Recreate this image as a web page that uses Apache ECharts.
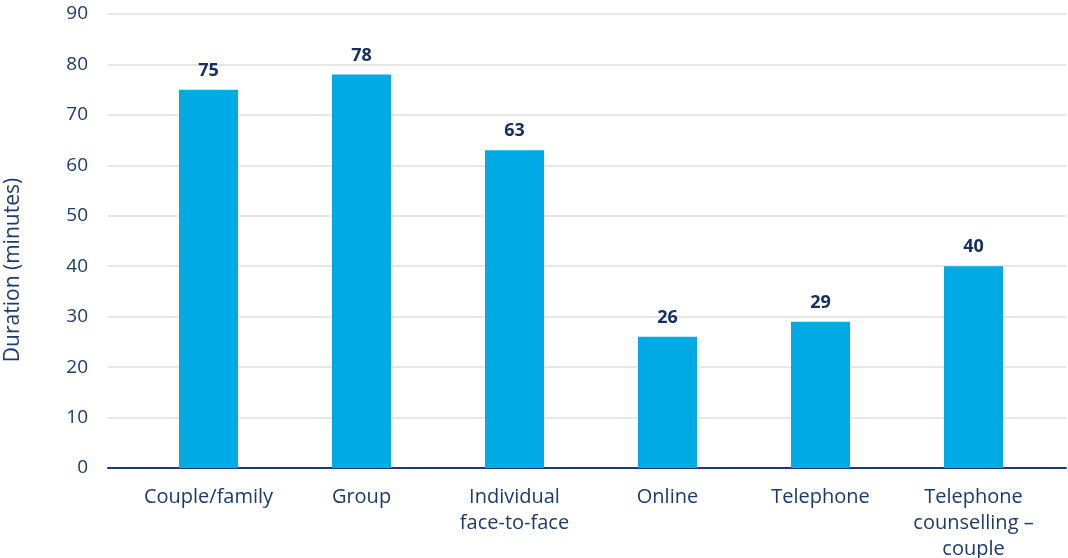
<!DOCTYPE html>
<html>
<head>
<meta charset="utf-8">
<script src="https://cdn.jsdelivr.net/npm/echarts@6/dist/echarts.min.js"></script>
<style>
  html, body { margin: 0; padding: 0; background: #ffffff; }
  #chart { width: 1068px; height: 558px; }
</style>
</head>
<body>
<div id="chart"></div>
<script>
// Average session duration by service type
const categories = [
  'Couple/family',
  'Group',
  'Individual\nface-to-face',
  'Online',
  'Telephone',
  'Telephone\ncounselling –\ncouple'
];
const durations = [75, 78, 63, 26, 29, 40];
const yTicks = [0, 10, 20, 30, 40, 50, 60, 70, 80, 90];

const NAVY = '#1c3a6e';
const BAR = '#00aae5';
const FONT = '"Open Sans", "DejaVu Sans", sans-serif';

const chart = echarts.init(document.getElementById('chart'), null, { renderer: 'canvas' });

chart.setOption({
  animation: false,
  backgroundColor: '#ffffff',
  textStyle: { fontFamily: FONT },
  grid: [
    // frame: gridlines, value ticks and baseline
    { left: 108, right: 2, top: 14, bottom: 90, outerBoundsMode: 'none', containLabel: false },
    // bars and category labels
    { left: 132, right: 18, top: 14, bottom: 90, outerBoundsMode: 'none', containLabel: false }
  ],
  graphic: [{
    type: 'text',
    x: 13,
    y: 270,
    rotation: Math.PI / 2,
    style: {
      text: 'Duration (minutes)',
      font: '21px ' + FONT,
      fill: NAVY,
      align: 'center',
      verticalAlign: 'middle'
    }
  }],
  xAxis: [
    {
      gridIndex: 0,
      type: 'category',
      data: [''],
      axisLine: { show: true, lineStyle: { color: NAVY, width: 2 } },
      axisTick: { show: false },
      axisLabel: { show: false },
      splitLine: { show: false }
    },
    {
      gridIndex: 1,
      type: 'category',
      data: categories,
      axisLine: { show: false },
      axisTick: { show: false },
      axisLabel: {
        color: NAVY,
        fontSize: 20,
        fontFamily: FONT,
        lineHeight: 26,
        margin: 16,
        interval: 0
      }
    }
  ],
  yAxis: [
    {
      gridIndex: 0,
      type: 'value',
      min: yTicks[0],
      max: yTicks[yTicks.length - 1],
      interval: 10,
      axisLine: { show: false },
      axisTick: { show: false },
      axisLabel: { color: NAVY, fontSize: 19, fontFamily: FONT, margin: 20 },
      splitLine: { lineStyle: { color: '#dedede', width: 1.5 } }
    },
    {
      gridIndex: 1,
      type: 'value',
      min: yTicks[0],
      max: yTicks[yTicks.length - 1],
      interval: 10,
      show: false,
      splitLine: { show: false }
    }
  ],
  series: [{
    type: 'bar',
    xAxisIndex: 1,
    yAxisIndex: 1,
    data: durations,
    barWidth: 59,
    itemStyle: { color: BAR },
    label: {
      show: true,
      position: 'top',
      distance: 10,
      color: '#172f63',
      fontSize: 18,
      fontWeight: 'bold',
      fontFamily: FONT
    }
  }]
});
</script>
</body>
</html>
